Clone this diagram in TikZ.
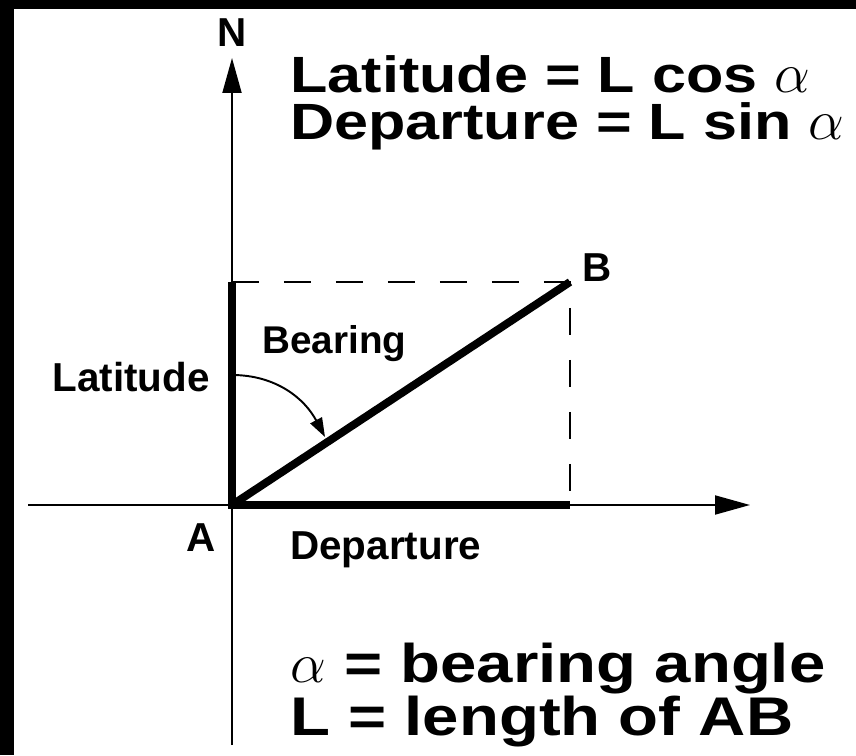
\documentclass[tikz,border=0pt]{standalone}
\usepackage{graphicx}
\usepackage{fontspec}
\setmainfont{Liberation Sans}
\newfontfamily\widefont[FakeStretch=1.2]{Liberation Sans}
\newcommand\alphasym{\scalebox{1.3}{$\alpha$}}
\usepackage{tikz}
\usetikzlibrary{arrows.meta,calc}

\begin{document}
\begin{tikzpicture}[x=0.02cm, y=0.02cm, >={Triangle[length=0.7cm,width=0.38cm]}]
	\tikzset{axis/.style={line width=1.1pt, ->}, leg/.style={line width=4.5pt, line join=miter}, proj/.style={line width=1.1pt, dash pattern=on 0.54cm off 0.5cm}, lbl/.style={font=\fontsize{23}{27}\bfseries\selectfont, inner sep=0pt}, eqn/.style={font=\widefont\bfseries, inner sep=0pt, anchor=base west, align=left}}
	\useasboundingbox (0,0) rectangle (856,755);
	\fill (0,746) rectangle (856,755);
	\fill (0,0) rectangle (14,755);
	\coordinate (A) at (232,250);
	\coordinate (B) at (570,473);
	\coordinate (lat) at (232,473);
	\coordinate (dep) at (570,250);
	\coordinate (south) at (232,10);
	\coordinate (north) at (232,697);
	\coordinate (west) at (28,250);
	\coordinate (east) at (750,250);
	\coordinate (sweepstart) at (232,380);
	\coordinate (sweepend) at (325,318);
	\draw[axis] (south) -- (north);
	\draw[axis] (west) -- (east);
	\draw[proj] (lat) -- (B) -- (dep);
	\draw[leg] (lat) -- (A) -- (dep);
	\draw[leg] (A) -- (B);
	\draw[line width=1.1pt, -{Triangle[length=0.38cm,width=0.26cm]}] (sweepstart) to[out=0, in=118] (sweepend);
	\node[lbl] (Nlbl) at (232,722) {N};
	\node[lbl, anchor=east] (latlbl) at (210,378) {Latitude};
	\node[lbl, anchor=west, font=\fontsize{22}{26}\bfseries\selectfont] (bearlbl) at (262,411) {Bearing};
	\node[lbl] (Albl) at (201,217) {A};
	\node[lbl, anchor=west] (Blbl) at (582,487) {B};
	\node[lbl, anchor=west] (deplbl) at (290,205) {Departure};
	\node[eqn, font=\widefont\fontsize{29}{27.3}\bfseries\selectfont] (formulas) at (290,615) {Latitude = L cos \alphasym\\Departure = L sin \alphasym};
	\node[eqn, font=\widefont\fontsize{31}{30.1}\bfseries\selectfont] (legend) at (290,20) {\alphasym{} = bearing angle\\L = length of AB};
\end{tikzpicture}
\end{document}
